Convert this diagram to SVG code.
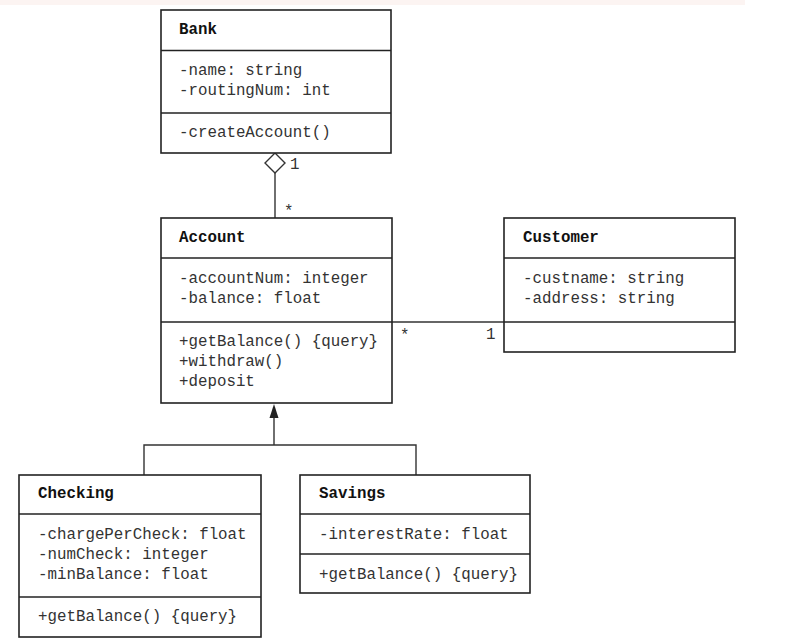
<svg xmlns="http://www.w3.org/2000/svg" width="788" height="640" viewBox="0 0 788 640">
<style>
.box{fill:#fff;stroke:#222;stroke-width:1.6}
.sep{stroke:#222;stroke-width:1.6}
.t{font-family:"Liberation Mono","Courier New",monospace;font-size:15.8px;fill:#333}
.h{font-family:"Liberation Mono","Courier New",monospace;font-size:15.8px;font-weight:bold;fill:#111}
.ln{fill:none;stroke:#333;stroke-width:1.4}
</style>
<rect x="0" y="0" width="745" height="5" fill="#fcf4f2"/>
<g id="connectors">
  <line class="ln" x1="275" y1="173" x2="275" y2="218"/>
  <polygon points="275,153 285,163 275,173 265,163" fill="#fff" stroke="#333" stroke-width="1.4"/>
  <text class="t" x="290" y="169">1</text>
  <text class="t" x="284" y="216">*</text>
  <line class="ln" x1="392" y1="322" x2="504" y2="322"/>
  <text class="t" x="400" y="340">*</text>
  <text class="t" x="486" y="339">1</text>
  <polyline class="ln" points="144,475 144,445 416,445 416,475"/>
  <line class="ln" x1="274" y1="445" x2="274" y2="416"/>
  <polygon points="274,404 278.5,418 269.5,418" fill="#222"/>
</g>
<g id="Bank">
  <rect class="box" x="161" y="10" width="230" height="143"/>
  <line class="sep" x1="161" y1="50.5" x2="391" y2="50.5"/>
  <line class="sep" x1="161" y1="113" x2="391" y2="113"/>
  <text class="h" x="179" y="34">Bank</text>
  <text class="t" x="179" y="75">-name: string</text>
  <text class="t" x="179" y="95">-routingNum: int</text>
  <text class="t" x="179" y="137">-createAccount()</text>
</g>
<g id="Account">
  <rect class="box" x="161" y="218" width="231" height="185"/>
  <line class="sep" x1="161" y1="258" x2="392" y2="258"/>
  <line class="sep" x1="161" y1="322" x2="392" y2="322"/>
  <text class="h" x="179" y="242">Account</text>
  <text class="t" x="179" y="283">-accountNum: integer</text>
  <text class="t" x="179" y="303">-balance: float</text>
  <text class="t" x="179" y="346">+getBalance() {query}</text>
  <text class="t" x="179" y="366">+withdraw()</text>
  <text class="t" x="179" y="386">+deposit</text>
</g>
<g id="Customer">
  <rect class="box" x="504" y="218" width="231" height="134"/>
  <line class="sep" x1="504" y1="258" x2="735" y2="258"/>
  <line class="sep" x1="504" y1="322" x2="735" y2="322"/>
  <text class="h" x="523" y="242">Customer</text>
  <text class="t" x="523" y="283">-custname: string</text>
  <text class="t" x="523" y="303">-address: string</text>
</g>
<g id="Checking">
  <rect class="box" x="19" y="475" width="242" height="162"/>
  <line class="sep" x1="19" y1="514" x2="261" y2="514"/>
  <line class="sep" x1="19" y1="597" x2="261" y2="597"/>
  <text class="h" x="38" y="498">Checking</text>
  <text class="t" x="38" y="539">-chargePerCheck: float</text>
  <text class="t" x="38" y="559">-numCheck: integer</text>
  <text class="t" x="38" y="579">-minBalance: float</text>
  <text class="t" x="38" y="621">+getBalance() {query}</text>
</g>
<g id="Savings">
  <rect class="box" x="300" y="475" width="230" height="118"/>
  <line class="sep" x1="300" y1="514" x2="530" y2="514"/>
  <line class="sep" x1="300" y1="554" x2="530" y2="554"/>
  <text class="h" x="319" y="498">Savings</text>
  <text class="t" x="319" y="539">-interestRate: float</text>
  <text class="t" x="319" y="579">+getBalance() {query}</text>
</g>
</svg>
